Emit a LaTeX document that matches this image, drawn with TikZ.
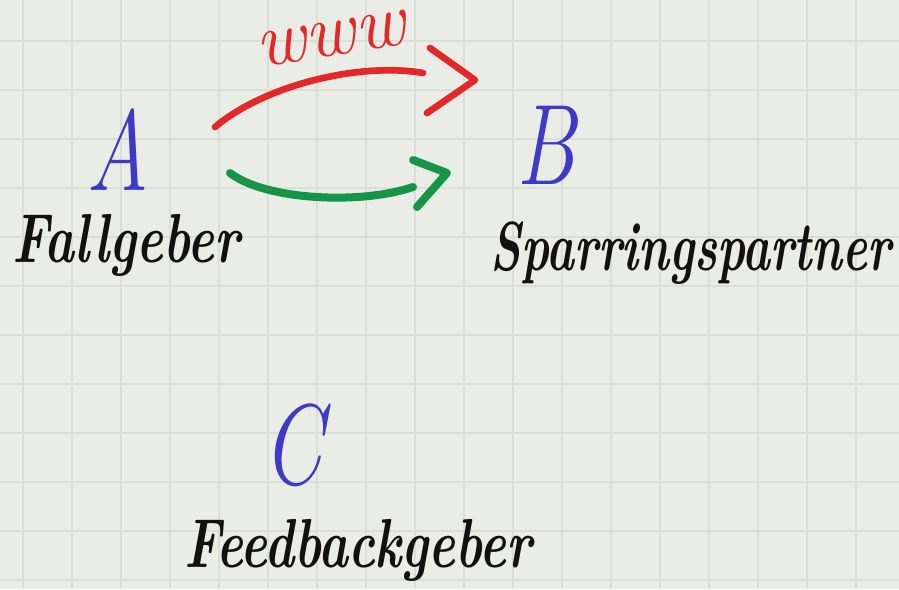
\documentclass[tikz,border=0pt]{standalone}
\usepackage{fontspec}
\usetikzlibrary{positioning}
\definecolor{paper}{RGB}{233,237,230}
\definecolor{gridline}{RGB}{217,222,214}
\definecolor{penblue}{RGB}{62,58,198}
\definecolor{penred}{RGB}{228,40,42}
\definecolor{pengreen}{RGB}{22,148,72}
\definecolor{penblack}{RGB}{20,16,18}

\begin{document}
\begin{tikzpicture}[x=0.75pt,y=0.75pt,yscale=-1,xscale=1,
  letter/.style={text=penblue,font=\fontsize{86}{86}\selectfont\itshape,inner sep=0pt},
  label/.style={text=penblack,font=\fontsize{52}{52}\selectfont\bfseries\itshape,inner sep=0pt,anchor=base},
  redpen/.style={draw=penred,line width=5pt,line cap=round,line join=round},
  greenpen/.style={draw=pengreen,line width=6pt,line cap=round,line join=round}]
\useasboundingbox (0,0) rectangle (899,589);

%Shape: Paper
\fill [paper] (0,0) rectangle (899,589);
%Shape: Grid
\foreach \gx in {23,72,...,899} \draw [gridline,line width=1pt] (\gx,0) -- (\gx,589);
\foreach \gy in {41,90,...,589} \draw [gridline,line width=1pt] (0,\gy) -- (899,\gy);

% Text Node
\node [letter] (A) at (118,150) {\scalebox{0.75}[1]{A}};
% Text Node
\node [letter] (B) at (546,145) {\scalebox{0.75}[1]{B}};
% Text Node
\node [letter] (C) at (293,445) {\scalebox{0.75}[1]{C}};

% Text Node
\node [label] (fallgeber) at (126,262) {\scalebox{0.73}[1]{Fallgeber}};
% Text Node
\node [label] (sparring) at (691,270) {\scalebox{0.68}[1]{Sparringspartner}};
% Text Node
\node [label] (feedback) at (358,567) {\scalebox{0.73}[1]{Feedbackgeber}};
% Text Node
\node [text=penred,font=\fontsize{58}{58}\selectfont\itshape,rotate=9,inner sep=0pt] (www) at (331,39) {www};

%Curve Lines: red arrow
\coordinate (redfrom) at (215,127);
\coordinate (redto) at (423,73);
\coordinate (redtip) at (475,80);
\draw [redpen] (redfrom) .. controls (265,85) and (360,62) .. (redto);
\draw [redpen] (430,48) -- (redtip) -- (427,113);

%Curve Lines: green arrow
\coordinate (greenfrom) at (230,173);
\coordinate (greento) at (413,187);
\coordinate (greentip) at (447,173);
\draw [greenpen] (greenfrom) .. controls (265,200) and (360,205) .. (greento);
\draw [greenpen] (413,160) -- (greentip) -- (417,207);

\end{tikzpicture}
\end{document}
